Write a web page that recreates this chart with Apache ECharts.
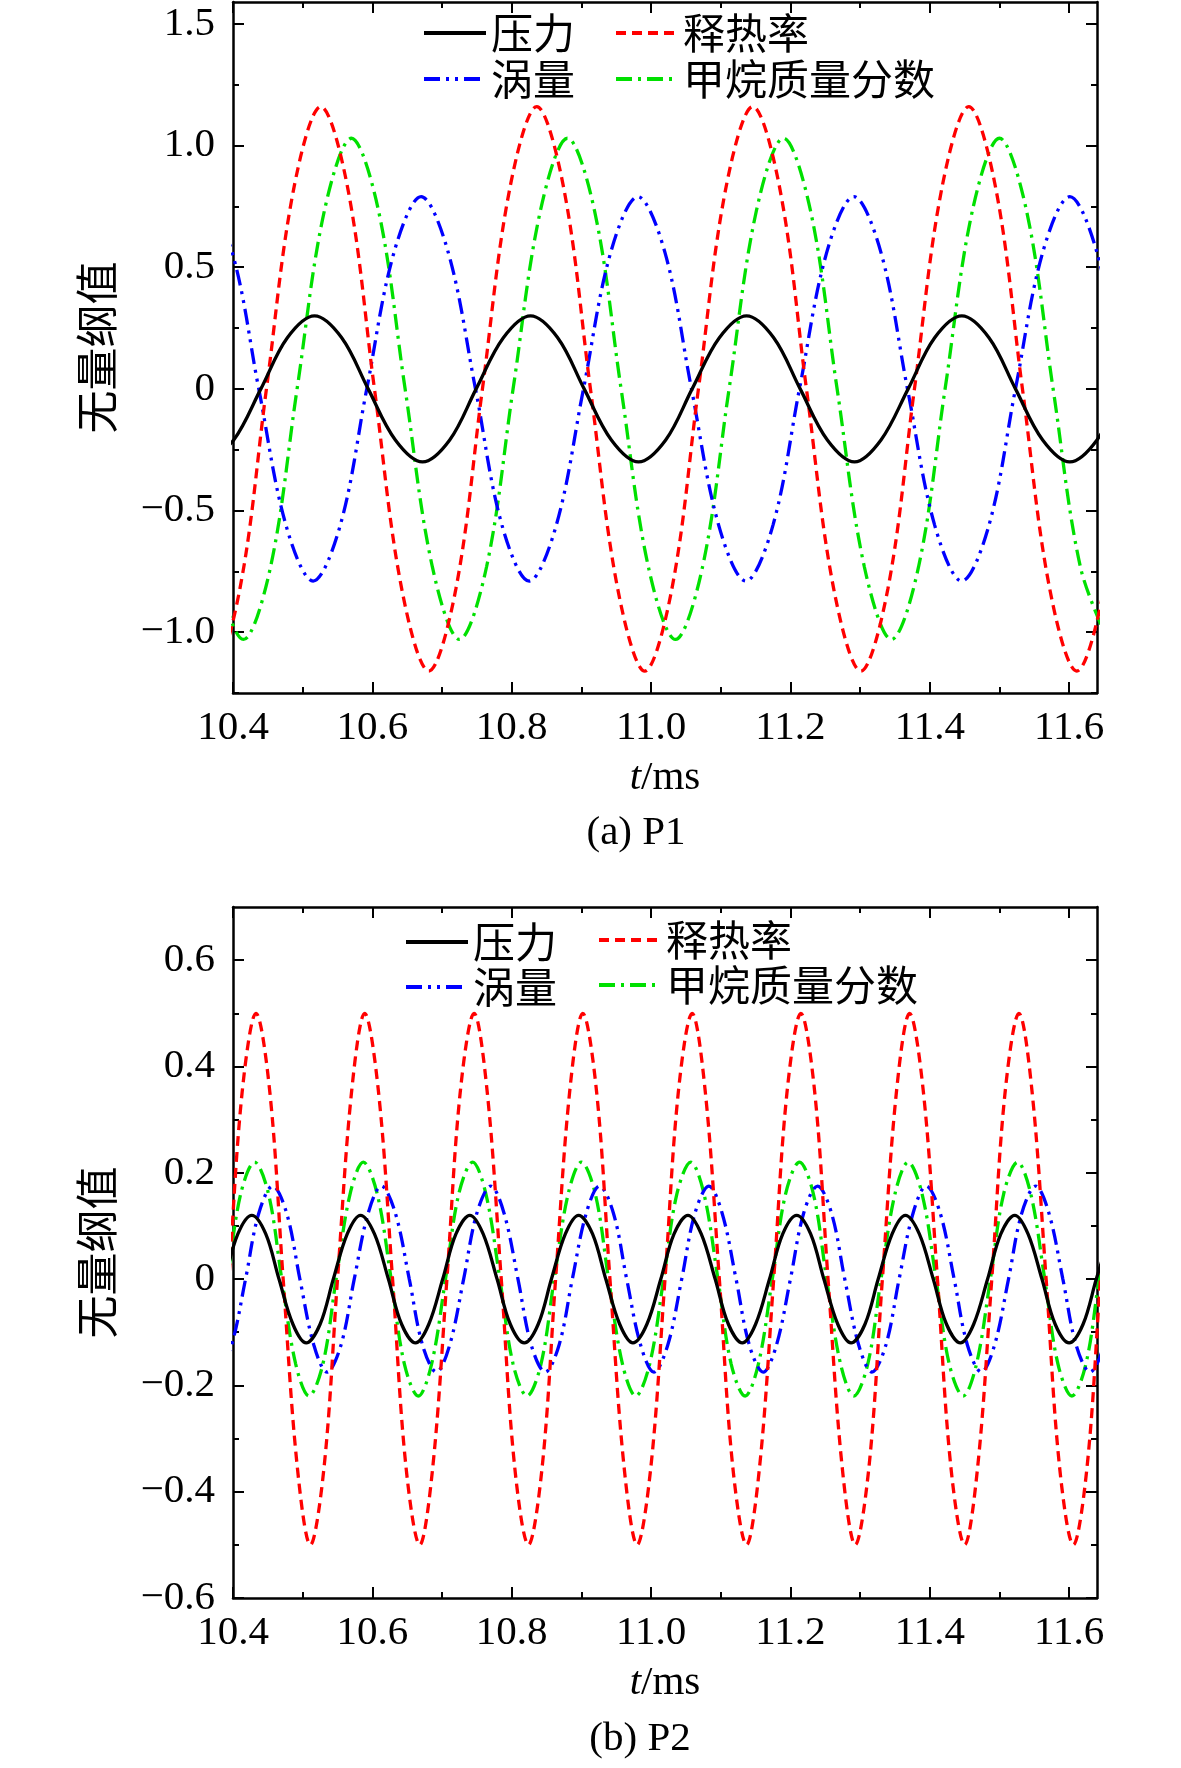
<!DOCTYPE html>
<html>
<head>
<meta charset="utf-8">
<title>P1 / P2 无量纲值</title>
<script src="https://cdn.jsdelivr.net/npm/echarts@6/dist/echarts.min.js"></script>
<style>
  html, body { margin: 0; padding: 0; background: #fff; }
  #main { width: 1181px; height: 1768px; }
</style>
</head>
<body>
<div id="main"></div>
<script>
// ---- data: [t (ms), value] ----
var legendNames = ['压力', '释热率', '涡量', '甲烷质量分数'];

// (a) P1
var p1Pressure = [[10.362,-0.30],[10.401,-0.21],[10.440,0],[10.478,0.21],[10.517,0.30],[10.556,0.21],[10.594,0],[10.633,-0.21],[10.672,-0.30],[10.711,-0.21],[10.749,0],[10.788,0.21],[10.827,0.30],[10.866,0.21],[10.904,0],[10.943,-0.21],[10.982,-0.30],[11.021,-0.21],[11.059,0],[11.098,0.21],[11.137,0.30],[11.176,0.21],[11.214,0],[11.253,-0.21],[11.292,-0.30],[11.330,-0.21],[11.369,0],[11.407,0.21],[11.446,0.30],[11.485,0.21],[11.523,0],[11.562,-0.21],[11.601,-0.30],[11.640,-0.21],[11.678,0]];
var p1Heat = [[10.332,-0.82],[10.371,-1.16],[10.410,-0.82],[10.448,0],[10.487,0.82],[10.526,1.16],[10.565,0.82],[10.603,0],[10.642,-0.82],[10.681,-1.16],[10.720,-0.82],[10.758,0],[10.797,0.82],[10.836,1.16],[10.875,0.82],[10.913,0],[10.952,-0.82],[10.991,-1.16],[11.030,-0.82],[11.068,0],[11.107,0.82],[11.146,1.16],[11.185,0.82],[11.223,0],[11.262,-0.82],[11.301,-1.16],[11.340,-0.82],[11.378,0],[11.417,0.82],[11.456,1.16],[11.495,0.82],[11.533,0],[11.572,-0.82],[11.611,-1.16],[11.650,-0.82],[11.688,0]];
var p1Vortex = [[10.360,0.79],[10.399,0.56],[10.437,0],[10.476,-0.56],[10.515,-0.79],[10.554,-0.56],[10.592,0],[10.631,0.56],[10.670,0.79],[10.709,0.56],[10.748,0],[10.786,-0.56],[10.825,-0.79],[10.864,-0.56],[10.903,0],[10.942,0.56],[10.981,0.79],[11.020,0.56],[11.058,0],[11.097,-0.56],[11.136,-0.79],[11.175,-0.56],[11.213,0],[11.252,0.56],[11.291,0.79],[11.330,0.56],[11.368,0],[11.407,-0.56],[11.446,-0.79],[11.485,-0.56],[11.523,0],[11.562,0.56],[11.601,0.79],[11.640,0.56],[11.679,0]];
var p1Methane = [[10.337,0],[10.376,-0.73],[10.415,-1.03],[10.454,-0.73],[10.492,0],[10.531,0.73],[10.570,1.03],[10.609,0.73],[10.647,0],[10.686,-0.73],[10.725,-1.03],[10.764,-0.73],[10.802,0],[10.841,0.73],[10.880,1.03],[10.919,0.73],[10.957,0],[10.996,-0.73],[11.035,-1.03],[11.074,-0.73],[11.112,0],[11.151,0.73],[11.190,1.03],[11.229,0.73],[11.267,0],[11.306,-0.73],[11.345,-1.03],[11.384,-0.73],[11.422,0],[11.461,0.73],[11.500,1.03],[11.539,0.73],[11.577,0],[11.616,-0.73],[11.655,-1.03]];

// (b) P2
var p2Pressure = [[10.368,-0.085],[10.388,0],[10.407,0.085],[10.427,0.12],[10.447,0.085],[10.466,0],[10.486,-0.085],[10.505,-0.12],[10.525,-0.085],[10.544,0],[10.564,0.085],[10.583,0.12],[10.603,0.085],[10.623,0],[10.642,-0.085],[10.662,-0.12],[10.681,-0.085],[10.701,0],[10.720,0.085],[10.740,0.12],[10.759,0.085],[10.779,0],[10.798,-0.085],[10.818,-0.12],[10.838,-0.085],[10.857,0],[10.877,0.085],[10.896,0.12],[10.916,0.085],[10.935,0],[10.955,-0.085],[10.974,-0.12],[10.994,-0.085],[11.014,0],[11.033,0.085],[11.053,0.12],[11.072,0.085],[11.092,0],[11.111,-0.085],[11.131,-0.12],[11.150,-0.085],[11.170,0],[11.189,0.085],[11.209,0.12],[11.229,0.085],[11.248,0],[11.268,-0.085],[11.287,-0.12],[11.307,-0.085],[11.326,0],[11.346,0.085],[11.365,0.12],[11.385,0.085],[11.405,0],[11.424,-0.085],[11.444,-0.12],[11.463,-0.085],[11.483,0],[11.502,0.085],[11.522,0.12],[11.541,0.085],[11.561,0],[11.580,-0.085],[11.600,-0.12],[11.620,-0.085],[11.639,0],[11.659,0.085]];
var p2Heat = [[10.374,-0.35],[10.394,0],[10.413,0.35],[10.433,0.50],[10.453,0.35],[10.472,0],[10.492,-0.35],[10.511,-0.50],[10.531,-0.35],[10.550,0],[10.570,0.35],[10.589,0.50],[10.609,0.35],[10.629,0],[10.648,-0.35],[10.668,-0.50],[10.687,-0.35],[10.707,0],[10.726,0.35],[10.746,0.50],[10.765,0.35],[10.785,0],[10.804,-0.35],[10.824,-0.50],[10.844,-0.35],[10.863,0],[10.883,0.35],[10.902,0.50],[10.922,0.35],[10.941,0],[10.961,-0.35],[10.980,-0.50],[11.000,-0.35],[11.020,0],[11.039,0.35],[11.059,0.50],[11.078,0.35],[11.098,0],[11.117,-0.35],[11.137,-0.50],[11.156,-0.35],[11.176,0],[11.195,0.35],[11.215,0.50],[11.235,0.35],[11.254,0],[11.274,-0.35],[11.293,-0.50],[11.313,-0.35],[11.332,0],[11.352,0.35],[11.371,0.50],[11.391,0.35],[11.411,0],[11.430,-0.35],[11.450,-0.50],[11.469,-0.35],[11.489,0],[11.508,0.35],[11.528,0.50],[11.547,0.35],[11.567,0],[11.586,-0.35],[11.606,-0.50],[11.626,-0.35],[11.645,0],[11.665,0.35]];
var p2Vortex = [[10.379,-0.175],[10.398,-0.124],[10.418,0],[10.437,0.124],[10.457,0.175],[10.477,0.124],[10.496,0],[10.516,-0.124],[10.535,-0.175],[10.555,-0.124],[10.574,0],[10.594,0.124],[10.613,0.175],[10.633,0.124],[10.653,0],[10.672,-0.124],[10.692,-0.175],[10.711,-0.124],[10.731,0],[10.750,0.124],[10.770,0.175],[10.789,0.124],[10.809,0],[10.828,-0.124],[10.848,-0.175],[10.868,-0.124],[10.887,0],[10.907,0.124],[10.926,0.175],[10.946,0.124],[10.965,0],[10.985,-0.124],[11.004,-0.175],[11.024,-0.124],[11.044,0],[11.063,0.124],[11.083,0.175],[11.102,0.124],[11.122,0],[11.141,-0.124],[11.161,-0.175],[11.180,-0.124],[11.200,0],[11.219,0.124],[11.239,0.175],[11.259,0.124],[11.278,0],[11.298,-0.124],[11.317,-0.175],[11.337,-0.124],[11.356,0],[11.376,0.124],[11.395,0.175],[11.415,0.124],[11.435,0],[11.454,-0.124],[11.474,-0.175],[11.493,-0.124],[11.513,0],[11.532,0.124],[11.552,0.175],[11.571,0.124],[11.591,0],[11.610,-0.124],[11.630,-0.175],[11.650,-0.124],[11.669,0]];
var p2Methane = [[10.373,-0.16],[10.392,0],[10.411,0.16],[10.431,0.22],[10.451,0.16],[10.470,0],[10.490,-0.16],[10.509,-0.22],[10.529,-0.16],[10.548,0],[10.568,0.16],[10.587,0.22],[10.607,0.16],[10.627,0],[10.646,-0.16],[10.666,-0.22],[10.685,-0.16],[10.705,0],[10.724,0.16],[10.744,0.22],[10.763,0.16],[10.783,0],[10.802,-0.16],[10.822,-0.22],[10.842,-0.16],[10.861,0],[10.881,0.16],[10.900,0.22],[10.920,0.16],[10.939,0],[10.959,-0.16],[10.978,-0.22],[10.998,-0.16],[11.018,0],[11.037,0.16],[11.057,0.22],[11.076,0.16],[11.096,0],[11.115,-0.16],[11.135,-0.22],[11.154,-0.16],[11.174,0],[11.193,0.16],[11.213,0.22],[11.233,0.16],[11.252,0],[11.272,-0.16],[11.291,-0.22],[11.311,-0.16],[11.330,0],[11.350,0.16],[11.369,0.22],[11.389,0.16],[11.409,0],[11.428,-0.16],[11.448,-0.22],[11.467,-0.16],[11.487,0],[11.506,0.16],[11.526,0.22],[11.545,0.16],[11.565,0],[11.584,-0.16],[11.604,-0.22],[11.624,-0.16],[11.643,0],[11.663,0.16]];

// tick labels
var xTicks = [10.4, 10.6, 10.8, 11.0, 11.2, 11.4, 11.6];
var xMinorTicks = [10.5, 10.7, 10.9, 11.1, 11.3, 11.5];
var y1Ticks = [-1.0, -0.5, 0, 0.5, 1.0, 1.5];
var y1MinorTicks = [-1.25, -0.75, -0.25, 0.25, 0.75, 1.25];
var y2Ticks = [-0.6, -0.4, -0.2, 0, 0.2, 0.4, 0.6];
var y2MinorTicks = [-0.5, -0.3, -0.1, 0.1, 0.3, 0.5];

var NUM_FONT = 'Liberation Serif';
var CJK_FONT = 'Noto Sans CJK SC';

function fmt(v) {
    if (Math.abs(v) < 1e-9) return '0';
    return v.toFixed(1).replace('-', '\u2212');
}

var lineStyles = {
    '压力': { color: '#000000', type: 'solid' },
    '释热率': { color: '#ff0000', type: [10, 6] },
    '涡量': { color: '#0000ff', type: [16, 6, 3, 6, 3, 6] },
    '甲烷质量分数': { color: '#00e000', type: [16, 6, 3, 6] }
};

var chart = echarts.init(document.getElementById('main'));

var grids = [
    { left: 233, top: 2, width: 864, height: 691 },
    { left: 233, top: 907, width: 864, height: 691 }
];

var xAxes = [];
var yAxes = [];

function addX(gi, position, ticks, len, labels, line) {
    var ax = {
        type: 'value', gridIndex: gi, position: position,
        min: 10.4, max: 11.64,
        axisLine: { show: line, onZero: false, lineStyle: { color: '#000', width: 2.5 } },
        axisTick: { show: true, inside: true, length: len, customValues: ticks,
            lineStyle: { color: '#000', width: 2 } },
        axisLabel: { show: labels, customValues: ticks, margin: 15,
            fontFamily: NUM_FONT, fontSize: 41, color: '#000',
            formatter: function (v) { return fmt(v); } },
        splitLine: { show: false }
    };
    if (labels) {
        ax.name = '{i|t}/ms';
        ax.nameLocation = 'middle';
        ax.nameGap = 65;
        ax.nameTextStyle = { fontFamily: NUM_FONT, fontSize: 41, color: '#000',
            rich: { i: { fontFamily: NUM_FONT, fontSize: 41, fontStyle: 'italic', color: '#000' } } };
    }
    xAxes.push(ax);
}

function addY(gi, position, min, max, ticks, len, labels, line) {
    var ax = {
        type: 'value', gridIndex: gi, position: position,
        min: min, max: max,
        axisLine: { show: line, onZero: false, lineStyle: { color: '#000', width: 2.5 } },
        axisTick: { show: true, inside: true, length: len, customValues: ticks,
            lineStyle: { color: '#000', width: 2 } },
        axisLabel: { show: labels, customValues: ticks, margin: 18,
            fontFamily: NUM_FONT, fontSize: 41, color: '#000',
            formatter: function (v) { return fmt(v); } },
        splitLine: { show: false }
    };
    if (labels) {
        ax.name = '无量纲值';
        ax.nameLocation = 'middle';
        ax.nameRotate = 90;
        ax.nameGap = 115;
        ax.nameTextStyle = { fontFamily: CJK_FONT, fontSize: 43, color: '#000' };
    }
    yAxes.push(ax);
}

var yRanges = [[-1.25, 1.59, y1Ticks, y1MinorTicks], [-0.6, 0.7, y2Ticks, y2MinorTicks]];
for (var g = 0; g < 2; g++) {
    // order: bottom major (data axis), bottom minor, top major, top minor
    addX(g, 'bottom', xTicks, 11, true, true);
    addX(g, 'bottom', xMinorTicks, 6, false, false);
    addX(g, 'top', xTicks, 11, false, true);
    addX(g, 'top', xMinorTicks, 6, false, false);
    var r = yRanges[g];
    addY(g, 'left', r[0], r[1], r[2], 11, true, true);
    addY(g, 'left', r[0], r[1], r[3], 6, false, false);
    addY(g, 'right', r[0], r[1], r[2], 11, false, true);
    addY(g, 'right', r[0], r[1], r[3], 6, false, false);
}

function makeSeries(name, data, gi) {
    var st = lineStyles[name];
    return {
        name: name, type: 'line', data: data,
        xAxisIndex: gi * 4, yAxisIndex: gi * 4,
        symbol: 'none', smooth: 0.35, clip: true,
        lineStyle: { color: st.color, width: 3.3, type: st.type },
        itemStyle: { color: st.color }
    };
}

var series = [
    makeSeries('甲烷质量分数', p1Methane, 0),
    makeSeries('涡量', p1Vortex, 0),
    makeSeries('释热率', p1Heat, 0),
    makeSeries('压力', p1Pressure, 0),
    makeSeries('甲烷质量分数', p2Methane, 1),
    makeSeries('涡量', p2Vortex, 1),
    makeSeries('释热率', p2Heat, 1),
    makeSeries('压力', p2Pressure, 1)
];

function legendAt(name, left, top) {
    return {
        data: [name], left: left, top: top, padding: 0,
        itemWidth: 62, itemHeight: 14, selectedMode: false,
        itemStyle: { opacity: 0 },
        lineStyle: { width: 4 },
        textStyle: { fontFamily: CJK_FONT, fontSize: 42, color: '#000', lineHeight: 42 }
    };
}

var legends = [
    legendAt('压力', 422, 12),
    legendAt('涡量', 422, 58),
    legendAt('释热率', 614, 12),
    legendAt('甲烷质量分数', 614, 58),
    legendAt('压力', 404, 921),
    legendAt('涡量', 404, 966),
    legendAt('释热率', 597, 919),
    legendAt('甲烷质量分数', 597, 964)
];

function caption(text, x, y) {
    return {
        type: 'text', x: x, y: y,
        style: { text: text, font: '41px "Liberation Serif"', fill: '#000',
            align: 'center', verticalAlign: 'middle',
            textAlign: 'center', textVerticalAlign: 'middle' }
    };
}

var option = {
    backgroundColor: '#ffffff',
    animation: false,
    grid: grids,
    xAxis: xAxes,
    yAxis: yAxes,
    legend: legends,
    series: series,
    graphic: [
        caption('(a) P1', 636, 833),
        caption('(b) P2', 640, 1739)
    ]
};

chart.setOption(option);
</script>
</body>
</html>
